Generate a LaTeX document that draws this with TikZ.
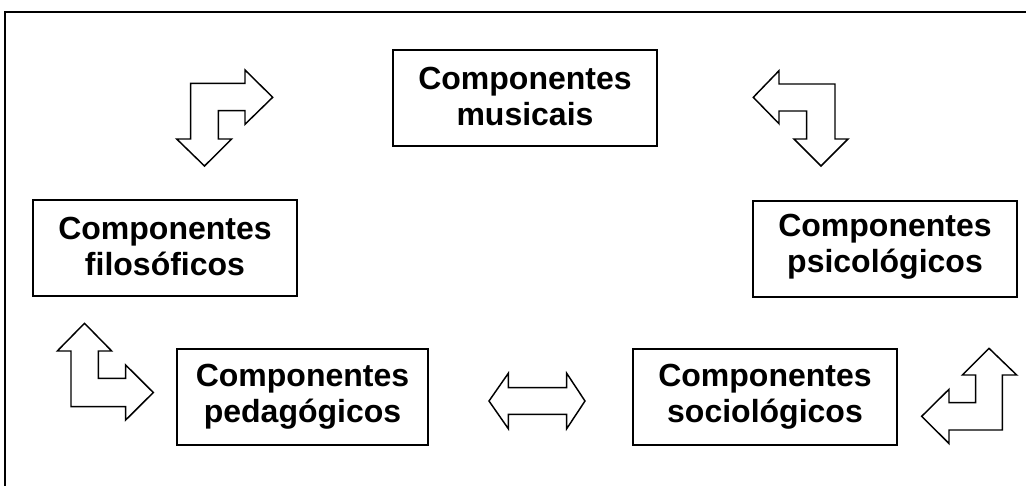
\documentclass[tikz,border=0pt]{standalone}
\usepackage{fontspec}
\setmainfont{Liberation Sans}
\begin{document}
\begin{tikzpicture}[x=0.75pt,y=-0.75pt,
  box/.style={draw=black,line width=1.5pt,fill=white,inner sep=0pt},
  boxtext/.style={align=center,inner sep=0pt,
    font=\fontsize{24}{27}\selectfont\bfseries},
  blockarrow/.style={draw=black,line width=1.1pt,fill=white,line join=miter},
  frame/.style={draw=black,line width=1.5pt}]
\useasboundingbox (0,0) rectangle (1026,486);
\begin{scope}
\clip (0,0) rectangle (1026,486);
\draw[frame] (5,12) rectangle (1040,500);
\end{scope}

\node[box,minimum width=198pt,minimum height=72pt] (mus) at (525,98) {};
\node[boxtext] (mus-t) at ([yshift=1pt]mus.center) {Componentes\\musicais};
\node[box,minimum width=198pt,minimum height=72pt] (fil) at (165,248) {};
\node[boxtext] (fil-t) at ([yshift=1pt]fil.center) {Componentes\\filosóficos};
\node[box,minimum width=198pt,minimum height=72pt] (psi) at (885,248.5) {};
\node[boxtext] (psi-t) at ([yshift=1pt]psi.center) {Componentes\\psicológicos};
\node[box,minimum width=188pt,minimum height=72pt] (ped) at (302.5,397) {};
\node[boxtext] (ped-t) at ([yshift=0pt]ped.center) {Componentes\\pedagógicos};
\node[box,minimum width=198pt,minimum height=72pt] (soc) at (765,397) {};
\node[boxtext] (soc-t) at ([yshift=0pt]soc.center) {Componentes\\sociológicos};

% top-left bent double arrow (right / down)
\draw[blockarrow] (190.7,83.3) -- (245,83.3) -- (245,70) -- (272.7,97.3) -- (245,124.3)
  -- (245,110.7) -- (218.3,110.7) -- (218.3,139) -- (231.7,139) -- (204.5,166)
  -- (176.7,139) -- (190.7,139) -- cycle;
% top-right bent double arrow (left / down)
\draw[blockarrow] (753.3,97.3) -- (779,70.7) -- (779,84) -- (835,84) -- (835,139)
  -- (848,139) -- (821,166) -- (794,139) -- (806.7,139) -- (806.7,111)
  -- (779,111) -- (779,123.7) -- cycle;
% bottom-left bent double arrow (up / right)
\draw[blockarrow] (84.5,323.3) -- (111.7,351) -- (98.3,351) -- (98.3,378.3)
  -- (125.7,378.3) -- (125.7,365) -- (153.3,392.5) -- (125.7,420) -- (125.7,406.7)
  -- (71,406.7) -- (71,351) -- (57.3,351) -- cycle;
% bottom-right bent double arrow (up / left)
\draw[blockarrow] (989,348.3) -- (1016.7,375) -- (1002.3,375) -- (1002.3,430)
  -- (949,430) -- (949,443.5) -- (921.7,416.3) -- (949,389.3) -- (949,402.7)
  -- (975.7,402.7) -- (975.7,375) -- (962.3,375) -- cycle;
% horizontal double arrow between pedagogicos and sociologicos
\draw[blockarrow] (489,401) -- (508.3,373.3) -- (508.3,387.7) -- (566.7,387.7)
  -- (566.7,373.3) -- (585,401) -- (566.7,428.7) -- (566.7,414.3) -- (508.3,414.3)
  -- (508.3,428.7) -- cycle;
\end{tikzpicture}
\end{document}
